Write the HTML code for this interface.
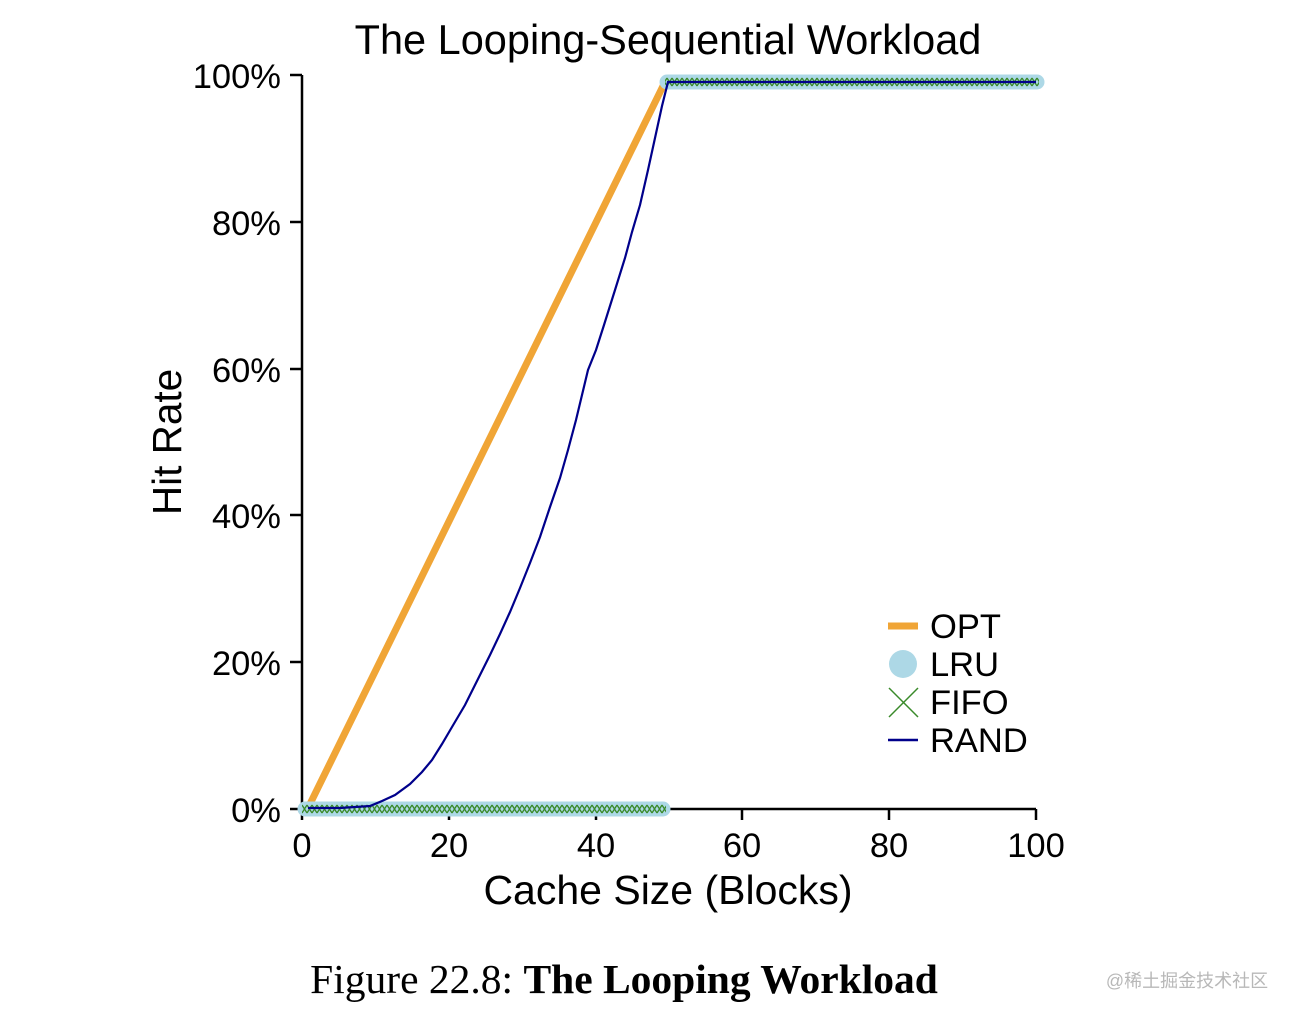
<!DOCTYPE html>
<html><head><meta charset="utf-8"><style>
html,body{margin:0;padding:0;background:#fff;}
svg{display:block;}
</style></head><body>
<svg width="1294" height="1016" viewBox="0 0 1294 1016" xmlns="http://www.w3.org/2000/svg" font-family="Liberation Sans, Arial, sans-serif">
<defs>
<pattern id="xp" x="302" y="0" width="5" height="1016" patternUnits="userSpaceOnUse">
<path d="M0 805 L5 813 M5 805 L0 813 M0 78 L5 86 M5 78 L0 86" stroke="#3a8a2a" stroke-width="1.3" fill="none"/>
</pattern>
</defs>
<rect width="1294" height="1016" fill="#fff"/>
<text x="668" y="54" font-size="41.5" text-anchor="middle" fill="#000">The Looping-Sequential Workload</text>
<path d="M302 75 V809 H1036" stroke="#000" stroke-width="2.5" fill="none"/>
<g stroke="#000" stroke-width="2.5">
<line x1="290" y1="75" x2="302" y2="75"/><line x1="290" y1="222" x2="302" y2="222"/><line x1="290" y1="369" x2="302" y2="369"/><line x1="290" y1="515" x2="302" y2="515"/><line x1="290" y1="662" x2="302" y2="662"/><line x1="290" y1="809" x2="302" y2="809"/>
<line x1="302" y1="809" x2="302" y2="820"/><line x1="449" y1="809" x2="449" y2="820"/><line x1="596" y1="809" x2="596" y2="820"/><line x1="742" y1="809" x2="742" y2="820"/><line x1="889" y1="809" x2="889" y2="820"/><line x1="1036" y1="809" x2="1036" y2="820"/>
</g>
<g font-size="34.5" text-anchor="end" fill="#000">
<text x="281" y="88">100%</text><text x="281" y="235">80%</text><text x="281" y="382">60%</text><text x="281" y="528">40%</text><text x="281" y="675">20%</text><text x="281" y="822">0%</text>
</g>
<g font-size="34.5" text-anchor="middle" fill="#000">
<text x="302" y="857">0</text><text x="449" y="857">20</text><text x="596" y="857">40</text><text x="742" y="857">60</text><text x="889" y="857">80</text><text x="1036" y="857">100</text>
</g>
<text x="668" y="904" font-size="41" text-anchor="middle" fill="#000">Cache Size (Blocks)</text>
<text transform="translate(181,442) rotate(-90)" font-size="40.5" text-anchor="middle" fill="#000">Hit Rate</text>
<path d="M309 806 L665 82 L1036 82" stroke="#f0a536" stroke-width="7" fill="none"/>
<line x1="305" y1="809" x2="663" y2="809" stroke="#add8e6" stroke-width="15" stroke-linecap="round"/>
<line x1="667" y1="82" x2="1037" y2="82" stroke="#add8e6" stroke-width="15" stroke-linecap="round"/>
<rect x="302" y="800" width="364" height="18" fill="url(#xp)"/>
<rect x="665" y="74" width="374" height="18" fill="url(#xp)"/>
<polyline fill="none" stroke="#00008b" stroke-width="2.2" points="308,808 340,808 370,806 382,801 395,795 410,784 422,772 432,760 442,744 452,727 465,705 478,679 490,655 500,634 510,612 520,588 530,563 540,537 550,507 560,478 568,450 576,420 582,395 588,370 596,350 604,325 615,290 625,258 632,232 640,205 648,170 655,138 662,106 668,82 1036,82"/>
<line x1="888" y1="626" x2="918" y2="626" stroke="#f0a536" stroke-width="7"/>
<circle cx="903" cy="664" r="14" fill="#add8e6"/>
<path d="M889 688 L918 717 M918 688 L889 717" stroke="#3a8a2a" stroke-width="1.5"/>
<line x1="888" y1="740" x2="918" y2="740" stroke="#00008b" stroke-width="2.5"/>
<g font-size="34.5" fill="#000">
<text x="930" y="638">OPT</text><text x="930" y="676">LRU</text><text x="930" y="714">FIFO</text><text x="930" y="752">RAND</text>
</g>
<text x="624" y="993" font-size="41.5" text-anchor="middle" font-family="Liberation Serif, serif" fill="#000">Figure 22.8: <tspan font-weight="bold">The Looping Workload</tspan></text>
<text x="1187" y="987" font-size="18" text-anchor="middle" fill="#b8b8b8" font-family="Liberation Sans, 'Noto Sans CJK SC', sans-serif">@稀土掘金技术社区</text>
</svg>
</body></html>
